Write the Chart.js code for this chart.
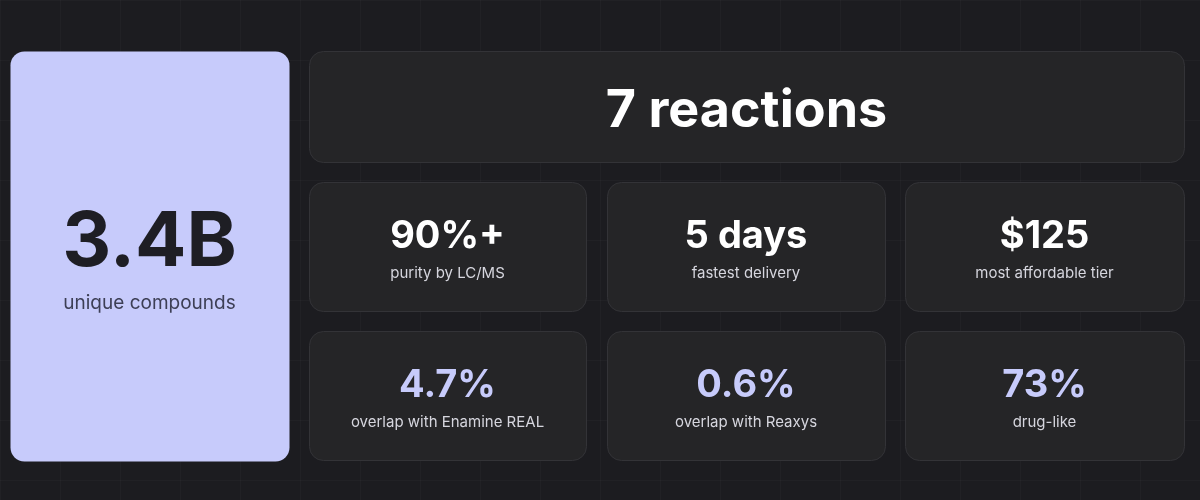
<!DOCTYPE html>
<html><head><meta charset="utf-8">
<script src="https://cdn.jsdelivr.net/npm/chart.js@4"></script>
<style>html,body{margin:0;padding:0;background:#1c1c20;}#w{width:1200px;height:500px;position:relative}</style>
</head><body><div id="w"><canvas id="c"></canvas></div>
<script>
const statValues = ["3.4B","7 reactions","90%+","5 days","$125","4.7%","0.6%","73%"];
const statLabels = ["unique compounds","","purity by LC/MS","fastest delivery","most affordable tier","overlap with Enamine REAL","overlap with Reaxys","drug-like"];
const statKinds = ["hero","title","white","white","white","accent","accent","accent"];

const layout = [
  [10,51,289,461],[309,51,1184,162],
  [309,182,586,311],[607,182,885,311],[905,182,1184,311],
  [309,331,586,460],[607,331,885,460],[905,331,1184,460]
];
const FONT = "Inter, 'Noto Sans', sans-serif";
function rr(ctx,x,y,w,h,r){ctx.beginPath();ctx.moveTo(x+r,y);ctx.arcTo(x+w,y,x+w,y+h,r);ctx.arcTo(x+w,y+h,x,y+h,r);ctx.arcTo(x,y+h,x,y,r);ctx.arcTo(x,y,x+w,y,r);ctx.closePath();}
const cards = {
  id:'cards',
  beforeDatasetsDraw(chart){
    const ctx=chart.ctx, sx=chart.scales.x, sy=chart.scales.y;
    ctx.save();
    ctx.fillStyle='#1c1c20';ctx.fillRect(0,0,chart.width,chart.height);
    ctx.strokeStyle='rgba(255,255,255,0.025)';ctx.lineWidth=1;
    for(let x=0;x<=1200;x+=60){ctx.beginPath();ctx.moveTo(sx.getPixelForValue(x)+.5,0);ctx.lineTo(sx.getPixelForValue(x)+.5,500);ctx.stroke();}
    for(let y=0;y<=500;y+=60){ctx.beginPath();ctx.moveTo(0,sy.getPixelForValue(y)+.5);ctx.lineTo(1200,sy.getPixelForValue(y)+.5);ctx.stroke();}
    statValues.forEach((v,i)=>{
      const [a,b,c,d]=layout[i];
      const x0=sx.getPixelForValue(a),x1=sx.getPixelForValue(c),y0=sy.getPixelForValue(b),y1=sy.getPixelForValue(d);
      const k=statKinds[i], cx=(x0+x1)/2;
      rr(ctx,x0+.5,y0+.5,x1-x0,y1-y0,14);
      if(k==='hero'){ctx.fillStyle='#c7cbfb';ctx.fill();}
      else{ctx.fillStyle='#252527';ctx.fill();ctx.strokeStyle='#333337';ctx.stroke();}
      ctx.textAlign='center';ctx.textBaseline='alphabetic';
      if(k==='hero'){
        ctx.fillStyle='#1e1e24';ctx.font='700 76px '+FONT;ctx.fillText(v,cx,266);
        ctx.fillStyle='#3d3f55';ctx.font='400 19px '+FONT;ctx.fillText(statLabels[i],cx,309);
      } else if(k==='title'){
        ctx.fillStyle='#ffffff';ctx.font='700 52px '+FONT;ctx.fillText(v,cx,127);
      } else {
        ctx.fillStyle=k==='accent'?'#c7cbfb':'#ffffff';
        ctx.font='700 38px '+FONT;ctx.fillText(v,cx,y0+66);
        ctx.fillStyle='#d6d6de';ctx.font='400 15px '+FONT;ctx.fillText(statLabels[i],cx,y0+96);
      }
    });
    ctx.restore();
  }
};
new Chart(document.getElementById('c'),{
  type:'scatter',
  data:{datasets:[{data:[],pointRadius:0}]},
  options:{responsive:true,maintainAspectRatio:false,animation:false,
    layout:{padding:0},
    plugins:{legend:{display:false},tooltip:{enabled:false}},
    scales:{x:{type:'linear',min:0,max:1200,display:false},y:{type:'linear',min:0,max:500,reverse:true,display:false}}},
  plugins:[cards]
});
</script></body></html>
